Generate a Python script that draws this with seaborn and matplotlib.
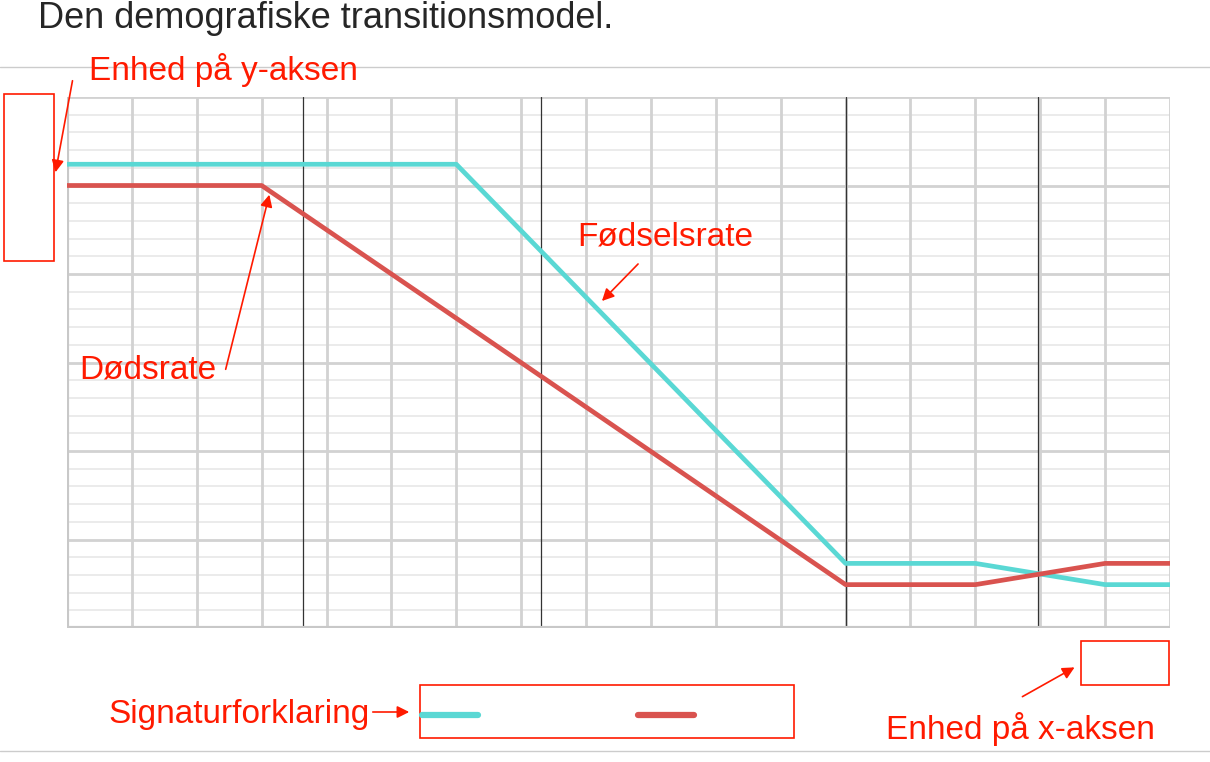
import numpy as np
import pandas as pd
import seaborn as sns
import matplotlib.pyplot as plt
from matplotlib.patches import Rectangle
from matplotlib.lines import Line2D

# Data (x in grid steps, y in major grid units)
STEPS = [0, 3, 6, 12, 14, 16, 17]
BIRTH = [5.24, 5.24, 5.24, 0.73, 0.73, 0.49, 0.49]
DEATH = [5.0, 5.0, 3.5, 0.49, 0.49, 0.73, 0.73]
PHASE_LINES = [3.63, 7.3, 12, 14.97]

CYAN = "#5ad8d4"
RED = "#d9534f"
ANNOT = "#ff1a00"
H = 762

sns.set_style("white")
plt.rcParams["font.family"] = ["Liberation Sans", "DejaVu Sans"]

fig = plt.figure(figsize=(12.1, 7.62), dpi=100)
ax = fig.add_axes([67 / 1210, 1 - 628 / 762, 1103 / 1210, 531 / 762])

df = pd.DataFrame({"x": STEPS * 2, "y": BIRTH + DEATH,
                   "serie": ["Fødselsrate"] * len(STEPS) + ["Dødsrate"] * len(STEPS)})

# grid
for yy in np.arange(0, 6.01, 0.2):
    major = abs(yy - round(yy)) < 1e-6
    ax.axhline(yy, color="#d2d2d2" if major else "#e8e8e8", lw=2 if major else 1.2, zorder=0)
for xx in range(18):
    ax.axvline(xx, color="#d2d2d2", lw=2, zorder=0)
for xx in PHASE_LINES:
    ax.axvline(xx, color="#333333", lw=0.9, zorder=1)

sns.lineplot(data=df, x="x", y="y", hue="serie", palette=[CYAN, RED],
             lw=3.4, ax=ax, legend=False, zorder=3)
ax.set_xlim(0, 17)
ax.set_ylim(0, 6)
ax.set_xticks([])
ax.set_yticks([])
ax.set_xlabel("")
ax.set_ylabel("")
for s in ax.spines.values():
    s.set_visible(False)
ax.axvline(0, color="#c8c8c8", lw=3, zorder=2)
ax.axhline(0, color="#c8c8c8", lw=3, zorder=2)

# page elements
fig.add_artist(Line2D([0, 1], [1 - 67 / H, 1 - 67 / H], color="#cccccc", lw=1))
fig.add_artist(Line2D([0, 1], [1 - 751 / H, 1 - 751 / H], color="#cccccc", lw=1))
fig.text(38 / 1210, 1 - 18 / H, "Den demografiske transitionsmodel.", fontsize=26,
         va="center", ha="left")


def box(x0, y0, x1, y1):
    fig.add_artist(Rectangle((x0 / 1210, 1 - y1 / H), (x1 - x0) / 1210, (y1 - y0) / H,
                             transform=fig.transFigure, fill=False, ec=ANNOT, lw=1.2))


def arrow(x0, y0, x1, y1):
    ax.annotate("", xy=(x1, H - y1), xytext=(x0, H - y0), xycoords="figure pixels",
                textcoords="figure pixels", annotation_clip=False,
                arrowprops=dict(arrowstyle="-|>", color=ANNOT, lw=1.2, mutation_scale=18))


def label(x, y, s):
    fig.text(x / 1210, 1 - y / H, s, color=ANNOT, fontsize=24, va="center", ha="left")


box(4, 94, 54, 261)
box(420, 685, 794, 738)
box(1081, 641, 1169, 685)
label(89, 70, "Enhed på y-aksen")
label(577, 237, "Fødselsrate")
label(79, 370, "Dødsrate")
label(108, 714, "Signaturforklaring")
label(886, 729, "Enhed på x-aksen")
arrow(73, 78, 55, 175)
arrow(225, 372, 270, 192)
arrow(640, 262, 600, 303)
arrow(370, 712, 412, 712)
arrow(1020, 698, 1077, 666)

fig.add_artist(Line2D([422 / 1210, 478 / 1210], [1 - 715 / H] * 2, color=CYAN, lw=4.5))
fig.add_artist(Line2D([638 / 1210, 694 / 1210], [1 - 715 / H] * 2, color=RED, lw=4.5))

plt.savefig("out.png", dpi=100)
